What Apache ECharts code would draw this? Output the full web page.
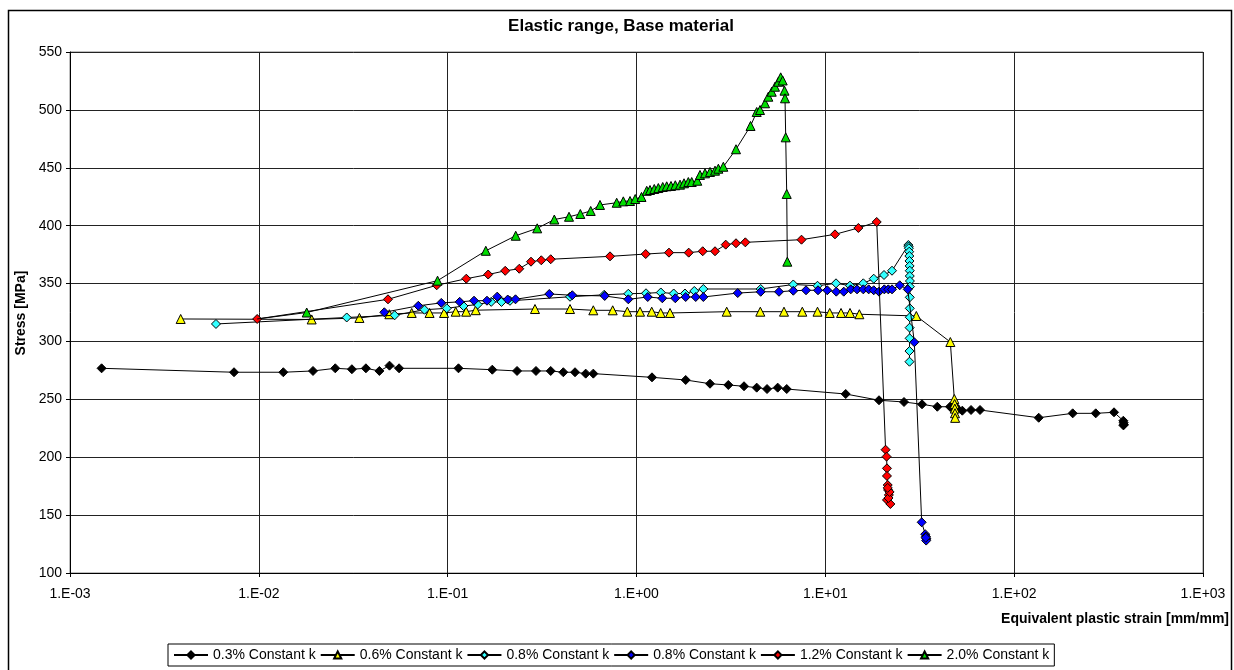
<!DOCTYPE html>
<html>
<head>
<meta charset="utf-8">
<script src="https://cdn.jsdelivr.net/npm/echarts@6/dist/echarts.min.js"></script>
<style>
html,body{margin:0;padding:0;background:#fff;}
#c{width:1234px;height:670px;}
</style>
</head>
<body>
<div id="c"></div>
<script>
// ---- Data (x = equivalent plastic strain, y = stress [MPa]) ----
// the two "0.8% Constant k" series get a trailing space so the legend keeps both (trimmed when shown)
const seriesNames = ['0.3% Constant k','0.6% Constant k','0.8% Constant k','0.8% Constant k ','1.2% Constant k','2.0% Constant k'];
const xTickLabels = ['1.E-03','1.E-02','1.E-01','1.E+00','1.E+01','1.E+02','1.E+03'];
const yTicks = [100,150,200,250,300,350,400,450,500,550];

const k03 = [[0.00147,276.8],[0.00739,273.4],[0.01348,273.4],[0.01936,274.5],[0.0254,276.8],[0.0311,276.0],[0.0369,276.8],[0.0435,274.5],[0.0492,279.1],[0.0553,276.8],[0.1141,276.8],[0.1723,275.6],[0.2330,274.5],[0.2936,274.5],[0.3513,274.5],[0.4097,273.4],[0.4725,273.4],[0.5383,272.2],[0.5905,272.2],[1.208,269.0],[1.822,266.7],[2.451,263.5],[3.064,262.4],[3.710,261.3],[4.331,260.1],[4.912,258.9],[5.594,260.1],[6.245,258.9],[12.82,254.6],[19.24,249.2],[26.10,247.7],[32.51,245.7],[39.17,243.6],[45.74,243.6],[47.5,241.5],[48.8,244.0],[49.64,242.3],[53.13,240.2],[59.10,240.8],[65.94,240.8],[134.9,234.1],[204.2,237.9],[270.4,237.9],[337.9,238.8],[378.5,231.5],[380,229.8],[381,228.2],[379,227.5]];

const k06 = [[0.003856,319.4],[0.01905,319.0],[0.0341,320.3],[0.0491,323.5],[0.0645,324.6],[0.0802,324.6],[0.0957,324.6],[0.1103,325.7],[0.1253,325.7],[0.1408,327.0],[0.290,328.0],[0.4445,328.0],[0.5905,326.9],[0.748,326.9],[0.894,325.7],[1.044,325.7],[1.204,325.7],[1.343,324.6],[1.505,324.6],[3.004,325.7],[4.525,325.7],[6.041,325.7],[7.552,325.7],[9.09,325.7],[10.55,324.6],[12.11,324.6],[13.51,324.6],[15.14,323.5],[30.33,322.0],[45.92,299.5],[48.20,250.3],[48.4,246],[48.5,242],[48.6,238],[48.7,234]];

const k08a = [[0.00593,315.1],[0.0292,320.7],[0.0524,322.6],[0.0754,327.4],[0.0989,328.6],[0.1213,330.6],[0.1442,331.9],[0.1701,334.2],[0.1928,334.1],[0.2138,335.1],[0.4445,338.6],[0.6745,340.3],[0.905,341.2],[1.123,341.6],[1.345,342.3],[1.574,341.4],[1.806,341.4],[2.023,343.6],[2.259,345.3],[4.547,345.3],[6.767,349.2],[9.09,348.1],[11.39,350.2],[13.51,348.2],[15.89,350.2],[18.04,354.2],[20.45,357.4],[22.55,361.1],[27.52,383.3],[27.6,382],[27.7,380.5],[27.8,377.5],[27.85,373.8],[27.9,369.5],[27.95,365.2],[28.0,361.1],[28.0,356.5],[28.05,352.2],[28.05,347.3],[28.0,338.1],[28.0,328.6],[28.0,320.9],[27.95,311.9],[27.95,302.7],[27.9,291.7],[27.9,282.5]];

const k08b = [[0.04619,325.2],[0.0699,330.8],[0.0925,333.3],[0.1158,334.2],[0.1379,335.2],[0.1615,335.2],[0.1830,338.7],[0.2080,336.2],[0.2287,336.4],[0.3453,341.0],[0.4571,339.9],[0.6788,339.3],[0.905,336.4],[1.147,338.4],[1.370,337.3],[1.605,337.3],[1.822,338.4],[2.059,338.4],[2.259,338.4],[3.436,341.8],[4.547,342.9],[5.684,342.9],[6.767,343.8],[7.902,344.2],[9.146,344.2],[10.24,344.2],[11.43,343.0],[12.52,343.0],[13.63,345.0],[14.72,345.0],[15.89,345.0],[16.97,345.0],[18.04,344.2],[19.24,343.0],[20.53,345.0],[21.55,345.0],[22.55,345.0],[24.77,348.5],[27.31,345.0],[29.60,299.3],[32.38,143.8],[33.8,133.5],[34.1,131.5],[34.3,129.5],[34.2,128.0],[34.0,130.5]];

const k12 = [[0.0098,319.4],[0.0483,336.4],[0.0875,348.5],[0.1255,354.2],[0.1639,357.8],[0.2017,361.0],[0.2395,362.8],[0.2763,368.9],[0.3132,370.1],[0.3513,371.0],[0.7241,373.5],[1.119,375.5],[1.486,376.7],[1.890,376.7],[2.242,377.9],[2.605,377.9],[2.968,383.6],[3.365,384.8],[3.770,385.6],[7.479,387.9],[11.25,392.5],[14.96,398.0],[18.71,403.2],[20.85,206.5],[21.1,200.5],[21.2,190.4],[21.2,183.8],[21.4,176.0],[21.5,171.7],[21.7,167.4],[21.2,163.1],[22.1,159.6],[21.6,164.8],[21.9,170.0],[21.4,173.5]];

const k20 = [[0.0098,319.4],[0.01793,325.0],[0.0884,352.5],[0.1592,378.3],[0.2293,391.3],[0.2980,397.7],[0.3671,405.3],[0.4392,407.7],[0.5041,410.1],[0.5722,412.7],[0.6407,417.9],[0.7855,419.8],[0.8516,421.0],[0.924,421.3],[0.9845,423.0],[1.063,424.8],[1.133,430.1],[1.179,430.8],[1.242,431.7],[1.305,432.5],[1.377,433.4],[1.445,434.0],[1.523,434.3],[1.605,434.9],[1.700,435.4],[1.785,436.6],[1.881,437.7],[1.961,437.7],[2.099,438.8],[2.169,443.8],[2.306,445.2],[2.451,446.4],[2.605,447.5],[2.713,449.2],[2.883,450.9],[3.365,466.0],[4.017,486.1],[4.331,498.2],[4.510,499.9],[4.794,505.7],[4.991,511.4],[5.202,515.7],[5.414,520.0],[5.636,524.3],[5.803,528.1],[5.947,525.4],[6.078,516.6],[6.116,510.0],[6.168,476.3],[6.245,427.4],[6.291,368.9]];

const seriesData = [k03, k06, k08a, k08b, k12, k20];
const fills = ['#000000','#FFFF00','#33FFFF','#0000FF','#FF0000','#00DD00'];
const shapes = ['diamond','triangle','diamond','diamond','diamond','triangle'];

// ---- Chart ----
const FONT = '"Liberation Sans", Arial, sans-serif';
const chart = echarts.init(document.getElementById('c'), null, {renderer:'canvas'});

const series = seriesData.map((d, i) => ({
  name: seriesNames[i],
  type: 'line',
  // the 2.0% curve starts on the 1.2% start point, where its marker is hidden
  data: d.map((p, j) => (i === 5 && j === 0) ? {value: p, symbol: 'none'} : p),
  symbol: shapes[i],
  symbolSize: 9,
  showSymbol: true,
  z: 2 + i * 0.01,
  lineStyle: {color:'#000', width:1},
  itemStyle: {color: fills[i], borderColor:'#000', borderWidth:1},
  emphasis: {disabled:true},
  animation: false
}));

chart.setOption({
  animation: false,
  backgroundColor: '#fff',
  textStyle: {fontFamily: FONT},
  title: {
    text: 'Elastic range, Base material',
    left: 621, top: 18, textAlign: 'center', padding: 0,
    textStyle: {fontFamily: FONT, fontSize: 17, fontWeight: 'bold', color:'#000'}
  },
  grid: {left:70, top:52, right:31, bottom:97, show:true, borderColor:'#808080', borderWidth:1, containLabel:false},
  xAxis: {
    type:'log', logBase:10, min:0.001, max:1000, splitNumber:6,
    axisLine:{show:true, lineStyle:{color:'#000', width:1}},
    axisTick:{show:true, length:4, lineStyle:{color:'#000'}},
    minorTick:{show:false},
    axisLabel:{color:'#000', fontSize:14, fontFamily:FONT, margin:14,
      formatter: v => xTickLabels[Math.round(Math.log10(v)) + 3]},
    splitLine:{show:true, lineStyle:{color:'#222', width:1}}
  },
  yAxis: {
    type:'value', min:yTicks[0], max:yTicks[yTicks.length-1], interval:50,
    axisLine:{show:true, lineStyle:{color:'#000', width:1}},
    axisTick:{show:true, length:4, lineStyle:{color:'#000'}},
    axisLabel:{color:'#000', fontSize:14, fontFamily:FONT, margin:8},
    splitLine:{show:true, lineStyle:{color:'#222', width:1}}
  },
  legend: {
    left:168, top:644, orient:'horizontal',
    borderColor:'#000', borderWidth:1, padding:[4,5,4,5],
    itemGap:4, itemWidth:34, itemHeight:9,
    textStyle:{fontSize:14, color:'#000', fontFamily:FONT},
    formatter: n => n.trim(),
    data: seriesNames.map(n => ({name:n})),
    selectedMode:false
  },
  graphic: [
    {type:'rect', silent:true, z:-1, shape:{x:8.5, y:10.5, width:1223, height:700},
      style:{fill:'none', stroke:'#000', lineWidth:1.5}},
    {type:'text', silent:true, x:21, y:313, rotation:Math.PI/2,
      style:{text:'Stress [MPa]', fill:'#000', font:'bold 14px ' + FONT, textAlign:'center', textVerticalAlign:'middle'}},
    {type:'text', silent:true, x:1229, y:619,
      style:{text:'Equivalent plastic strain [mm/mm]', fill:'#000', font:'bold 14px ' + FONT, textAlign:'right', textVerticalAlign:'middle'}}
  ],
  series: series
});
</script>
</body>
</html>
